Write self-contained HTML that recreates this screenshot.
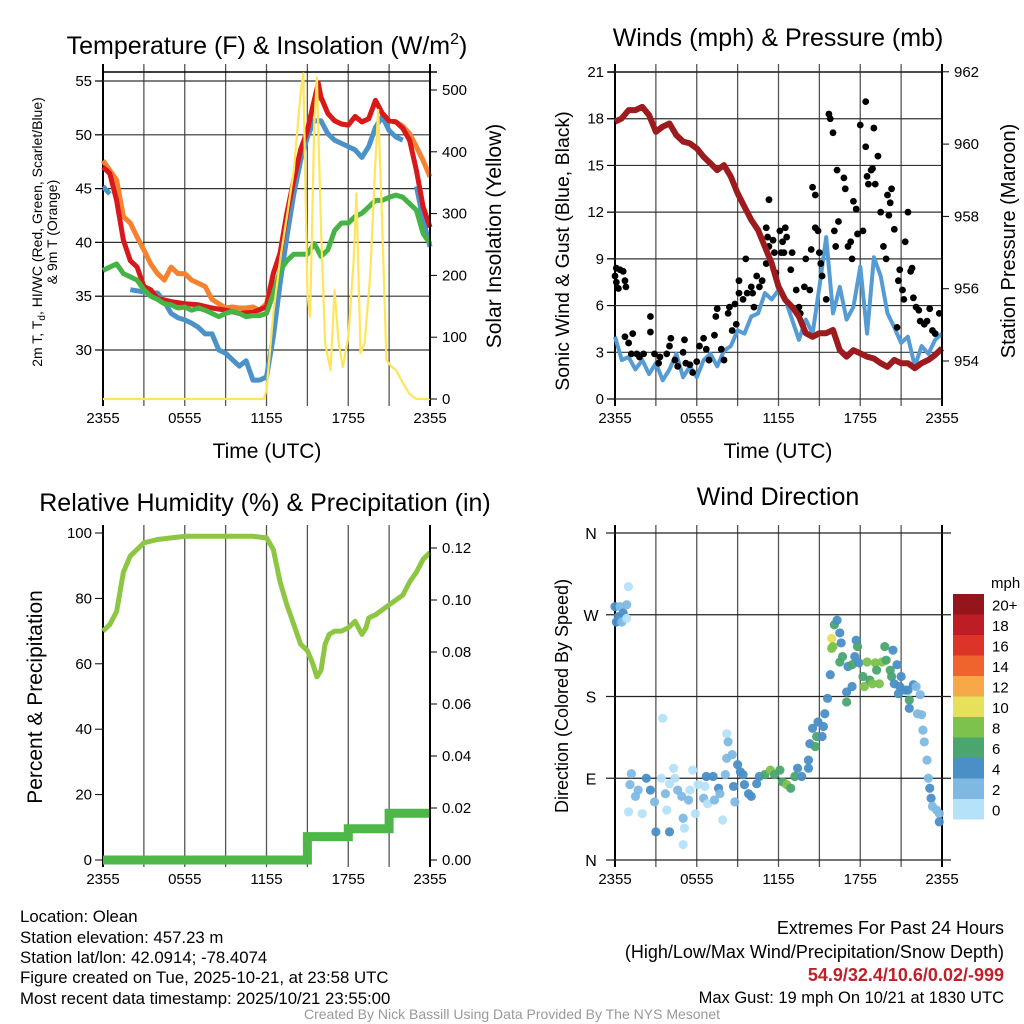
<!DOCTYPE html>
<html><head><meta charset="utf-8"><style>
html,body{margin:0;padding:0;background:#fff;}
svg{display:block;font-family:"Liberation Sans",sans-serif;}
</style></head><body>
<svg id="chart" width="1024" height="1024" viewBox="0 0 1024 1024">
<rect x="0" y="0" width="1024" height="1024" fill="#fff"/>
<g id="grid"></g>
<g id="marks"></g>
<g id="axes"></g>
<g font-size="25" text-anchor="middle" fill="#000">
<text x="267" y="54">Temperature (F) &amp; Insolation (W/m<tspan dy="-10" font-size="16">2</tspan><tspan dy="10">)</tspan></text>
<text x="778" y="46">Winds (mph) &amp; Pressure (mb)</text>
<text x="265" y="511">Relative Humidity (%) &amp; Precipitation (in)</text>
<text x="778" y="505">Wind Direction</text>
</g>
<g font-size="21" text-anchor="middle">
<text x="267" y="458">Time (UTC)</text>
<text x="778" y="458">Time (UTC)</text>
<text transform="translate(501,236) rotate(-90)">Solar Insolation (Yellow)</text>
<text transform="translate(569,251) rotate(-90)" font-size="19.5">Sonic Wind &amp; Gust (Blue, Black)</text>
<text transform="translate(1015,241) rotate(-90)" font-size="20">Station Pressure (Maroon)</text>
<text transform="translate(42,697) rotate(-90)">Percent &amp; Precipitation</text>
<text transform="translate(568,696) rotate(-90)" font-size="18">Direction (Colored By Speed)</text>
<text transform="translate(42,232) rotate(-90)" font-size="14">2m T, T<tspan font-size="10" dy="3">d</tspan><tspan dy="-3">, HI/WC (Red, Green, Scarlet/Blue)</tspan></text>
<text transform="translate(57,232) rotate(-90)" font-size="14">&amp; 9m T (Orange)</text>
</g>
<g font-size="16.8" fill="#000">
<text x="20" y="922">Location: Olean</text>
<text x="20" y="943">Station elevation: 457.23 m</text>
<text x="20" y="963">Station lat/lon: 42.0914; -78.4074</text>
<text x="20" y="983">Figure created on Tue, 2025-10-21, at 23:58 UTC</text>
<text x="20" y="1004">Most recent data timestamp: 2025/10/21 23:55:00</text>
</g>
<g font-size="18" text-anchor="end">
<text x="1004" y="934">Extremes For Past 24 Hours</text>
<text x="1004" y="958">(High/Low/Max Wind/Precipitation/Snow Depth)</text>
<text x="1004" y="981" fill="#c0202a" font-weight="bold">54.9/32.4/10.6/0.02/-999</text>
<text x="1004" y="1003" font-size="16.5">Max Gust: 19 mph On 10/21 at 1830 UTC</text>
</g>
<text x="512" y="1019" font-size="14" fill="#999" text-anchor="middle">Created By Nick Bassill Using Data Provided By The NYS Mesonet</text>
</svg>
<script>
// ---------- DATA ----------
const timeLabels = ["2355","0555","1155","1755","2355"];
const tempTicks = [30,35,40,45,50,55];
const insolTicks = [0,100,200,300,400,500];
const windTicks = [0,3,6,9,12,15,18,21];
const pressTicks = [954,956,958,960,962];
const rhTicks = [0,20,40,60,80,100];
const precipTicks = [0,0.02,0.04,0.06,0.08,0.10,0.12];
const dirTicks = [0,90,180,270,360];
const dirLabels = ["N","E","S","W","N"];
const speedBins = ["0","2","4","6","8","10","12","14","16","18","20+"];

const hHalf = [0,0.5,1,1.5,2,2.5,3,3.5,4,4.5,5,5.5,6,6.5,7,7.5,8,8.5,9,9.5,10,10.5,11,11.5,12,12.5,13,13.5,14,14.5,15,15.5,16,16.5,17,17.5,18,18.5,19,19.5,20,20.5,21,21.5,22,22.5,23,23.5,24];
const tempRedH = [0,0.5,1,1.5,2,2.5,3,3.5,4,5,6,7,8,9,10,11,12,12.5,13,13.5,14,14.5,15,15.5,15.8,16,16.5,17,17.5,18,18.5,19,19.5,20,20.5,21,21.5,22,22.5,23,23.5,24];
const tempRed = [47.0,46.4,43.9,40.2,38.3,37.7,35.9,35.6,34.8,34.5,34.3,34.2,33.9,33.7,33.4,33.5,34.0,37.1,39.0,42.7,45.8,48.6,50.4,53.2,54.8,53.5,52.0,51.3,51.0,50.9,51.7,51.2,51.5,53.2,52.0,51.3,51.2,50.6,49.5,46.7,43.3,41.4];
const tempOrange = [47.6,46.7,45.8,42.4,41.8,40.5,39.3,38.0,37.1,36.5,37.7,37.1,37.1,36.5,36.2,35.9,34.7,34.3,33.9,34.0,33.9,33.9,34.0,33.7,34.3,37.1,39.0,42.7,45.8,48.6,50.4,53.2,53.5,52.0,51.3,51.0,50.9,51.7,51.2,51.5,53.2,52.0,51.3,51.2,50.8,50.1,48.9,47.6,46.1];
const tempBlue = [45.2,44.5,null,null,35.6,35.5,35.4,35.3,35.3,34.5,33.4,33.0,32.8,32.5,32.1,31.5,31.5,30.0,29.7,29.1,28.5,29.0,27.2,27.2,27.5,31.2,36.2,40.5,44.5,47.6,49.8,51.3,51.3,50.1,49.5,49.2,48.9,48.6,47.9,48.9,50.7,51.7,50.4,49.8,49.5,null,45.2,42.1,39.6];
const tempGreen = [37.4,37.7,38.0,37.1,36.8,36.5,35.6,35.0,34.7,34.3,34.2,33.9,34.0,33.7,33.9,33.7,33.4,33.1,33.4,33.6,33.4,33.1,33.2,33.2,33.4,35.2,37.4,38.3,38.9,38.9,38.9,39.9,38.7,39.3,41.1,41.8,41.8,42.4,42.7,43.3,43.9,43.9,44.2,44.4,44.2,43.6,43.0,40.8,39.9];
const insolH = [0,11.8,12,12.5,13,13.5,14,14.5,14.7,15,15.2,15.5,15.7,16,16.3,16.7,17,17.3,17.6,18,18.4,18.6,18.9,19.2,19.6,20,20.2,20.5,20.8,21.2,21.5,22,22.5,23,24];
const insol = [0,0,14,139,225,295,370,495,527,171,133,440,520,278,90,47,176,90,52,100,225,333,74,90,198,387,468,278,63,52,47,26,8,0,0];

const pressure = [960.62,960.71,960.94,960.94,961.03,960.80,960.34,960.48,960.57,960.25,960.07,960.02,959.88,959.65,959.47,959.28,959.42,959.10,958.64,958.27,957.90,957.62,957.16,956.70,956.06,955.69,955.50,955.23,954.77,954.67,954.77,954.77,954.86,954.30,954.12,954.30,954.21,954.12,954.07,953.94,953.84,954.03,953.94,953.94,953.80,953.94,954.03,954.17,954.35];
const windSpeed = [4.0,2.5,2.7,1.9,2.5,1.6,2.3,1.2,1.9,2.9,1.4,2.1,1.4,2.5,2.9,2.1,3.1,3.4,4.4,4.2,5.3,5.5,6.8,6.4,7.0,6.4,5.1,3.8,5.1,4.2,7.2,10.4,5.5,7.2,5.1,5.9,8.5,4.2,9.1,7.9,5.5,4.6,3.6,4.0,2.1,3.4,2.9,3.8,4.2];
const gustH = [0,0.1,0.37,0.6,0.1,0.25,0.73,0.8,0.73,1,1.3,1.2,1.6,1.8,2.1,2.6,2.6,2.9,3.2,3.3,3.8,4,4.1,4.4,4.6,5,5.1,5.2,5.5,5.7,6,6.2,6.5,6.7,6.9,7.3,7.4,7.5,7.8,8,8.3,8.4,8.6,8.8,8.9,9.1,9.1,9.4,9.6,9.7,10,10.1,10.2,10.4,10.6,10.8,11.1,11.1,11.2,11.3,11.3,11.6,11.7,11.8,12.1,12.2,12.3,12.4,12.5,12.6,12.9,13,13.3,13.5,13.6,13.9,14,14.3,14.4,14.5,14.7,14.7,14.9,15,15.1,15.2,15.5,15.7,15.8,16,16.1,16.2,16.3,16.4,16.8,16.9,17.1,17.3,17.4,17.5,17.7,17.8,18,18.2,18.4,18.4,18.5,18.6,18.8,18.9,19,19.1,19.3,19.5,19.7,19.9,20,20.1,20.2,20.3,20.5,20.7,20.8,20.9,21.1,21.2,21.3,21.5,21.7,21.8,21.9,22.1,22.3,22.4,22.7,22.9,23.1,23.3,23.5,23.8];
const gust = [7.9,8.4,8.3,8.2,7.5,7.1,7.6,7.2,4.0,3.6,4.2,2.9,2.9,2.7,2.9,5.3,4.3,2.9,2.3,2.7,2.9,3.4,3.9,2.5,2.1,3.0,3.8,2.3,2.2,1.7,2.4,3.4,3.9,3.2,2.5,4.1,5.3,5.8,3.2,2.5,5.5,5.9,4.4,6.1,4.8,6.8,7.6,6.4,9.0,6.8,7.2,6.8,5.9,7.9,7.2,7.6,8.7,11.0,10.4,12.8,9.8,10.2,9.4,8.1,10.8,9.4,10.1,9.4,11.0,10.4,8.3,9.4,7.0,5.9,5.5,7.2,9.0,7.0,9.6,13.6,13.1,11.0,10.8,9.4,8.7,7.9,6.4,18.3,18.0,17.1,10.8,9.8,14.7,11.4,14.2,13.5,9.8,10.1,9.0,12.7,12.2,10.6,17.6,10.8,19.1,16.2,14.3,13.8,14.7,14.8,17.4,13.8,15.6,12.0,9.8,9.0,13.1,11.8,12.6,13.5,10.9,4.6,7.6,8.3,7.0,6.4,10.1,12.0,8.2,8.4,6.5,5.9,5.7,5.0,4.8,5.0,5.8,4.4,4.2,5.5];

const rhH = [0,0.5,1,1.5,2,2.5,3,4,5,6,7,8,9,10,11,12,12.5,13,13.5,14,14.5,15,15.4,15.7,16,16.3,16.6,17,17.5,18,18.5,19,19.3,19.5,20,21,22,22.5,23,23.5,24];
const rh = [70,72,76,88,93,95,97,98,98.5,99,99,99,99,99,99,98.5,95,85,78,72,66,64,60,56,58,66,69,70,70,71,73,69,71,74,75,78,81,85,88,92,94];
const precipH = [0,15,15,18,18,21,21,24];
const precip = [0,0,0.009,0.009,0.012,0.012,0.018,0.018];

const dirH = [0,0.24,0.37,0.6,0.86,0.98,0.1,0.5,0.86,1.2,1.1,1.5,1.7,1,2,2.3,2.6,2.9,3,3.4,3.5,3.7,3.8,4,4,4.3,4.4,4.6,4.9,5,5.1,5,5.4,5.5,5.7,5.9,6.1,6.5,6.6,6.7,6.8,7.2,7.3,7.6,7.7,7.9,8.1,8.2,8.3,8.2,8.6,8.7,8.8,9,9.2,9.4,9.5,9.8,10,10.4,10.6,11,11.4,11.7,12.1,12.3,12.6,12.9,13.2,13.4,13.7,14.2,14.2,14.3,14.7,14.8,14.5,14.9,15.2,15.3,15.4,15.6,15.8,15.9,15.9,16,16.1,16.3,16.5,16.6,16.5,16.7,17,17,17.1,17.4,17.4,17.6,17.7,17.8,17.9,18.2,18.3,18.5,18.7,18.9,19.1,19.2,19.4,19.6,19.8,19.9,20.2,20.3,20.4,20.5,20.7,20.8,20.9,21,21.3,21.5,21.6,21.6,21.9,22.1,22.4,22.2,22.5,22.6,22.7,22.9,23,23.1,23.2,23.3,23.6,23.8,23.8];
const dirDeg = [279,268,279,272,281,301,262,262,266,95,83,70,77,53,51,90,77,64,31,90,156,73,55,31,84,101,90,77,70,46,35,17,66,77,99,51,83,68,81,92,62,92,66,79,73,44,94,139,130,112,116,81,64,105,97,94,83,73,70,84,92,94,99,94,99,86,83,79,92,101,92,101,110,128,125,136,145,152,136,147,161,178,204,233,244,235,259,264,250,239,218,224,185,174,213,215,191,224,242,235,217,202,191,218,198,194,217,209,194,218,235,220,209,202,231,194,215,183,191,202,187,187,176,167,193,191,182,161,160,143,130,110,90,79,68,59,55,51,42];
const dirSpeed = [4,4,3,4,2,1,4,3,1,3,2,2,2,1,1,4,4,3,4,1,1,2,1,4,1,1,1,2,2,3,1,1,3,1,1,1,1,2,1,4,1,4,2,4,2,1,2,1,2,2,2,4,3,4,4,4,4,4,4,4,4,6,8,6,6,6,8,6,6,4,4,4,4,4,6,6,4,4,4,4,4,4,4,8,10,8,6,4,4,4,6,6,4,6,4,6,4,4,4,6,4,6,8,8,6,8,8,6,8,8,6,6,6,6,4,4,4,4,4,4,4,4,6,4,4,2,2,2,2,2,2,2,2,4,4,2,2,2,4];

// ---------- SCALES ----------
const NS = "http://www.w3.org/2000/svg";
const P1 = {x:103,y:72,w:327,h:327}, P2 = {x:615,y:72,w:327,h:327}, P3 = {x:103,y:533,w:327,h:327}, P4 = {x:615,y:533,w:327,h:327};
const xs = (p,h) => p.x + h/24*p.w;
const yT = t => 350 - (t-30)*10.76;
const yI = w => 399 - w*0.618;
const yW = w => 399 - w*15.57;
const yP = v => 361 - (v-954)*36.15;
const yRH = r => 860 - r*3.27;
const yPr = v => 860 - v*2600;
const yD = d => 860 - d*0.9083;
const speedColors = ["#b5e2f8","#7fb9e3","#4a8fc6","#4aa56f","#7cc24c","#e6e05a","#f7a94a","#ef632e","#dd3429","#bf1d25","#95161a"];

function mk(tag, attrs, parent){
  const e = document.createElementNS(NS, tag);
  for (const k in attrs) e.setAttribute(k, attrs[k]);
  document.getElementById(parent).appendChild(e);
  return e;
}
function pathFrom(hs, vs, p, yf){
  let d = "", pen = false;
  for (let i=0;i<vs.length;i++){
    if (vs[i]===null){ pen=false; continue; }
    d += (pen?"L":"M") + xs(p,hs[i]).toFixed(1) + "," + yf(vs[i]).toFixed(1);
    pen = true;
  }
  return d;
}

// ---------- GRID / AXES ----------
[P1,P2,P3,P4].forEach((p,pi) => {
  for (let k=0;k<=8;k++){
    const x = p.x + k*p.w/8;
    const g = mk("line",{x1:x,x2:x,y1:p.y-8,y2:p.y+p.h+7,stroke:(k==0||k==8)?"#000":"#555","stroke-width":(k==0||k==8)?2:1.3},"grid");
    
    
  }
  timeLabels.forEach((lab,i) => {
    const t = mk("text",{x:p.x+i*p.w/4,y:p.y+p.h+24,"font-size":15,"text-anchor":"middle"},"axes");
    t.textContent = lab;
    
    
  });
});
const topLine = mk("line",{x1:103,x2:437,y1:72,y2:72,stroke:"#000","stroke-width":1.5},"grid");


const topLine2 = mk("line",{x1:608,x2:942,y1:72,y2:72,stroke:"#000","stroke-width":1.5},"grid");



function yAxis(p, ticks, yf, fmt, side, grid){
  ticks.forEach(v => {
    const y = yf(v);
    if (grid){
      const g = mk("line",{x1:p.x-8,x2:p.x+p.w+(side?7:0),y1:y,y2:y,stroke:"#333","stroke-width":1.2},"grid");
      
      
    }
    const tx = side ? p.x+p.w : p.x;
    const tk = mk("line",{x1:tx,x2:side?tx+7:tx-8,y1:y,y2:y,stroke:"#000","stroke-width":1},"axes");
    
    
    const t = mk("text",{x:side?tx+12:tx-11,y:y+5,"font-size":15,"text-anchor":side?"start":"end"},"axes");
    t.textContent = fmt(v);
    
    
  });
}
yAxis(P1,tempTicks,yT,v=>v,false,true);
yAxis(P1,insolTicks,yI,v=>v,true,false);
yAxis(P2,windTicks,yW,v=>v,false,true);
yAxis(P2,pressTicks,yP,v=>v,true,false);
yAxis(P3,rhTicks,yRH,v=>v,false,false);
yAxis(P3,precipTicks,yPr,v=>v.toFixed(2),true,false);
dirTicks.forEach((d,i) => {
  const y = yD(d);
  const g = mk("line",{x1:P4.x-9,x2:P4.x+P4.w+9,y1:y,y2:y,stroke:"#222","stroke-width":1.2},"grid");
  
  
  const t = mk("text",{x:591,y:y+6,"font-size":16,"text-anchor":"middle"},"axes");
  t.textContent = dirLabels[i];
  
  
});
[P1,P2,P3].forEach(p => {
  const b = mk("line",{x1:p.x+p.w,x2:p.x+p.w,y1:p.y,y2:p.y+p.h,stroke:"#000","stroke-width":1.5},"axes");
  
  
});

// ---------- SERIES ----------
let e;
e = mk("path",{d:pathFrom(hHalf,tempOrange,P1,yT),fill:"none",stroke:"#f5822e","stroke-width":5,"stroke-linejoin":"round"},"marks");


e = mk("path",{d:pathFrom(hHalf,tempBlue,P1,yT),fill:"none",stroke:"#4b92c9","stroke-width":5,"stroke-linejoin":"round"},"marks");


e = mk("path",{d:pathFrom(tempRedH,tempRed,P1,yT),fill:"none",stroke:"#d7191c","stroke-width":5,"stroke-linejoin":"round"},"marks");


e = mk("path",{d:pathFrom(hHalf,tempGreen,P1,yT),fill:"none",stroke:"#46b445","stroke-width":5,"stroke-linejoin":"round"},"marks");


e = mk("path",{d:pathFrom(insolH,insol,P1,yI),fill:"none",stroke:"#ffe55a","stroke-width":2.2,"stroke-linejoin":"round"},"marks");



e = mk("path",{d:pathFrom(hHalf,windSpeed,P2,yW),fill:"none",stroke:"#559bd4","stroke-width":4,"stroke-linejoin":"round"},"marks");


gust.forEach((g,i) => {
  const c = mk("circle",{cx:xs(P2,gustH[i]),cy:yW(g),r:3.4,fill:"#000"},"marks");
  
  
});
e = mk("path",{d:pathFrom(hHalf,pressure,P2,yP),fill:"none",stroke:"#9b1b1e","stroke-width":6,"stroke-linejoin":"round"},"marks");



e = mk("path",{d:pathFrom(rhH,rh,P3,yRH),fill:"none",stroke:"#8dc642","stroke-width":5,"stroke-linejoin":"round"},"marks");


e = mk("path",{d:pathFrom(precipH,precip,P3,yPr),fill:"none",stroke:"#4db748","stroke-width":9},"marks");



dirDeg.forEach((d,i) => {
  const idx = Math.min(10, Math.floor(dirSpeed[i]/2));
  const c = mk("circle",{cx:xs(P4,dirH[i]),cy:yD(d),r:4.6,fill:speedColors[idx],"fill-opacity":0.95},"marks");
  
  
});

// ---------- COLORBAR ----------
const cbTop = 594, cbH = 20.5;
speedBins.forEach((lab,i) => {
  const y = cbTop + i*cbH;
  const r = mk("rect",{x:953,y:y,width:31,height:cbH,fill:speedColors[10-i]},"axes");
  
  
  const t = mk("text",{x:992,y:y+cbH/2+6,"font-size":15},"axes");
  t.textContent = speedBins[10-i];
  
  
});
const mph = mk("text",{x:991,y:588,"font-size":15},"axes");
mph.textContent = "mph";


</script>
</body></html>
